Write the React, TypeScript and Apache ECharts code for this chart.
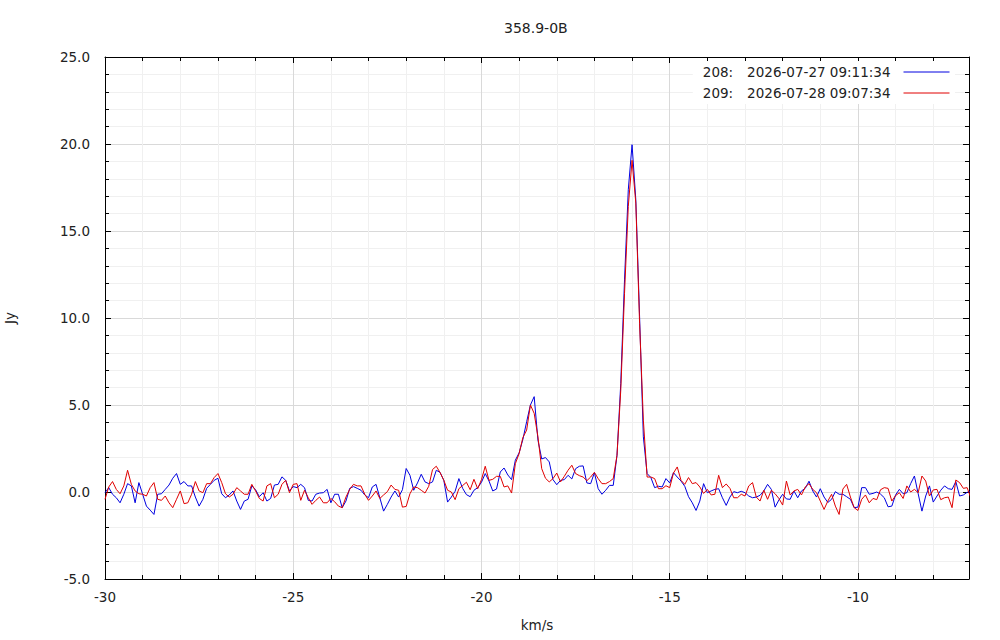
import React, { useEffect, useRef } from 'react';
import * as echarts from 'echarts';

// ---- data ----
const TITLE = '358.9-0B';
const X_NAME = 'km/s';
const Y_NAME = 'Jy';
const X_TICKS = [-30, -25, -20, -15, -10];
const Y_TICKS = [-5, 0, 5, 10, 15, 20, 25];
// spectral channel grid (km/s)
const VELOCITY_START = -30;
const VELOCITY_STEP = 0.1;
const SCAN_IDS = ['208', '209'];
const SCAN_TIMES = ['2026-07-27 09:11:34', '2026-07-28 09:07:34'];

// flux density (Jy), one value per channel, scan 208
const FLUX_208 = [
  -0.04, 0.25, -0.13, -0.33, -0.62, -0.13, 0.48, 0.35, -0.62, 0.54,
  -0.13, -0.81, -1.04, -1.29, -0.13, -0.1, 0.15, 0.4, 0.79, 1.06,
  0.44, 0.6, 0.35, 0.35, -0.29, -0.81, -0.42, 0.21, 0.44, 0.67,
  0.79, -0.1, -0.33, -0.17, 0.06, -0.52, -1.0, -0.52, -0.42,
  0.35, 0.13, -0.27, -0.04, -0.52, -0.37, 0.4, 0.44, 0.87, 0.67,
  0.06, 0.31, 0.25, 0.44, 0.25, -0.48, -0.52, -0.13, -0.06, -0.04,
  0.15, -0.62, -0.13, -0.13, -0.9, -0.52, 0.21, 0.31, 0.21, 0.1,
  -0.17, -0.33, 0.29, 0.44, -0.33, -1.1, -0.71, -0.29, 0.06,
  -0.29, 0.13, 1.35, 0.96, 0.1, 0.52, 1.02, 0.58, 0.48, 0.58,
  1.25, 1.13, 0.67, -0.58, -0.29, 0.04, 0.77, 0.21, -0.15, -0.27,
  0.1, 0.25, 0.56, 1.06, 0.63, 0.06, 0.17, 1.15, 1.38, 0.98,
  0.71, 1.83, 2.25, 3.02, 4.04, 5.0, 5.48, 2.98,
  1.9, 1.98, 1.73, 0.71, 0.42, 0.67, 0.71, 0.96, 0.75, 1.34,
  1.48, 1.5, 0.52, 0.48, 1.11, 0.19, -0.13, 0.1, 0.38, 0.38,
  2.11, 6.24, 12.19, 17.37, 19.96, 16.79, 10.08, 3.17, 1.06, 0.83,
  0.25, 0.33, 0.29, 0.77, 0.52, 1.11, 0.86, 0.63, 0.33,
  -0.27, -0.62, -1.06, -0.52, 0.48, -0.04, 0.06, 0.15, 0.19, -0.33,
  -0.77, -0.29, 0.02, -0.04, 0.04, -0.04, -0.23, -0.33, -0.29, -0.19,
  0.06, 0.44, 0.15, -0.87, -0.46, -0.13, -0.4, -0.42, 0.06, -0.33,
  0.06, 0.21, 0.62, 0.06, -0.29, 0.19, -0.29, -0.6, -0.42,
  0.02, -0.13, -0.13, -0.27, -0.42, -0.9, -0.87, 0.25, 0.25, -0.13,
  -0.08, 0.0, -0.12, -0.33, -0.85, -0.81, -0.17, 0.15, -0.1, -0.04,
  0.48, 0.92, -0.1, -1.1, -0.23, 0.35, -0.58, -0.23, 0.1, 0.35,
  0.19, 0.15, 0.6, -0.23, -0.17, -0.02, 0.06,
];

// flux density (Jy), one value per channel, scan 209
const FLUX_209 = [
  -0.42, 0.29, 0.6, 0.15, -0.1, 0.35, 1.25, 0.44, 0.06, -0.1,
  -0.13, -0.23, 0.25, 0.54, -0.42, -0.48, -0.23, -0.62, -0.9, -0.42,
  0.06, -0.67, -0.62, -0.13, 0.6, 0.06, -0.04, 0.48, 0.48, 0.83,
  1.06, 0.54, -0.1, -0.29, -0.13, 0.25, 0.06, -0.13, -0.13,
  0.44, 0.06, -0.37, -0.52, 0.35, 0.48, -0.33, -0.13, 0.44, 0.67,
  -0.04, 0.44, 0.48, -0.48, 0.1, -0.33, -0.71, -0.48, -0.29, -0.62,
  -0.62, -0.37, -0.56, -0.81, -0.9, -0.29, 0.15, 0.44, 0.35, 0.35,
  -0.13, -0.48, -0.23, 0.06, -0.37, -0.17, 0.02, 0.4, 0.15,
  0.1, -0.87, -0.83, -0.1, 0.29, 0.25, 0.1, -0.06, 0.33, 1.29,
  1.48, 1.12, 0.67, 0.1, 0.0, -0.44, 0.19, 0.37, 0.56, 0.13,
  0.73, 0.19, 0.71, 1.48, 0.67, 0.73, 0.9, 0.9, 0.29, 0.35,
  -0.06, 1.63, 2.21, 3.13, 3.56, 5.0, 4.52, 3.17,
  1.34, 0.79, 0.58, 0.77, 1.09, 0.58, 0.9, 1.25, 1.54, 1.06,
  0.94, 0.86, 0.65, 0.86, 1.13, 0.77, 0.48, 0.48, 0.6, 0.77,
  2.11, 5.85, 11.42, 16.41, 19.06, 16.6, 9.69, 4.13, 0.86, 0.86,
  0.77, 0.19, 0.19, 0.36, 0.25, 1.09, 1.44, 0.67, 0.44,
  0.83, 0.48, 0.54, 0.29, -0.08, 0.15, -0.17, -0.13, 0.96, 0.25,
  0.46, 0.21, -0.33, -0.33, -0.13, -0.23, 0.35, 0.54, -0.29, -0.52,
  0.1, -0.42, 0.1, -0.1, -0.37, -0.75, 0.63, -0.17, 0.06, 0.15,
  -0.17, 0.29, 0.48, 0.15, -0.04, -0.52, -1.0, -0.52, -0.13,
  -0.81, -1.29, 0.17, 0.44, -0.29, -0.9, -1.06, -0.42, -0.17, -0.62,
  -0.37, -0.44, 0.13, 0.25, 0.21, -0.52, -0.21, -0.04, -0.37, 0.35,
  0.0, 0.15, -0.04, 0.92, 0.63, -0.23, 0.12, 0.15, -0.44, -0.33,
  -0.29, -0.9, 0.69, 0.54, 0.21, 0.25, -0.33,
];

const X_MIN = -30;
const X_MAX = -7.05;

// ---- styles ----
const FONT = "'DejaVu Sans', 'Liberation Sans', sans-serif";
const TEXT_COLOR = '#222';
const LINE_COLORS = ['#0000e0', '#e00000'];

function toPairs(values: number[]): [number, number][] {
  return values.map((v, i) => [
    Math.round((VELOCITY_START + i * VELOCITY_STEP) * 1000) / 1000,
    v,
  ]);
}

export default function App() {
  const ref = useRef<HTMLDivElement | null>(null);

  useEffect(() => {
    if (!ref.current) return;
    const chart = echarts.init(ref.current, undefined, { renderer: 'svg' });
    const xInterval = X_TICKS[1] - X_TICKS[0];
    const yInterval = Y_TICKS[1] - Y_TICKS[0];

    const mirrorTick = {
      show: true,
      inside: true,
      length: 6,
      lineStyle: { color: '#000', width: 1 },
    };
    const mirrorMinor = {
      show: true,
      splitNumber: 5,
      length: 4,
      lineStyle: { color: '#000', width: 1 },
    };

    const seriesData = [FLUX_208, FLUX_209];

    const option: any = {
      animation: false,
      backgroundColor: '#fff',
      title: {
        text: TITLE,
        left: 504,
        top: 21,
        padding: 0,
        textStyle: {
          fontFamily: FONT,
          fontSize: 14,
          fontWeight: 'normal',
          color: TEXT_COLOR,
        },
      },
      legend: {
        orient: 'vertical',
        right: 45,
        top: 61,
        align: 'right',
        itemWidth: 46,
        itemHeight: 14,
        itemGap: 7,
        padding: [4, 5, 4, 10],
        backgroundColor: '#fff',
        selectedMode: false,
        data: SCAN_IDS,
        itemStyle: { opacity: 0, borderWidth: 0 },
        lineStyle: { width: 1 },
        formatter: (name: string) => {
          const i = SCAN_IDS.indexOf(name);
          return `{id|${name}:}{dt|${SCAN_TIMES[i]}}`;
        },
        textStyle: {
          fontFamily: FONT,
          fontSize: 13.5,
          color: TEXT_COLOR,
          lineHeight: 14,
          padding: [0, 8, 0, 0],
          rich: {
            id: {
              fontFamily: FONT,
              fontSize: 13.5,
              color: TEXT_COLOR,
              padding: [0, 14, 0, 0],
            },
            dt: { fontFamily: FONT, fontSize: 13.5, color: TEXT_COLOR },
          },
        },
      },
      grid: {
        left: 105,
        right: 31,
        top: 57,
        bottom: 61,
        containLabel: false,
        outerBoundsMode: 'none',
      },
      xAxis: [
        {
          type: 'value',
          position: 'bottom',
          min: X_MIN,
          max: X_MAX,
          interval: xInterval,
          name: X_NAME,
          nameLocation: 'middle',
          nameGap: 39,
          nameTextStyle: { fontFamily: FONT, fontSize: 13.5, color: TEXT_COLOR },
          axisLine: { show: true, onZero: false, lineStyle: { color: '#000', width: 1 } },
          axisTick: mirrorTick,
          minorTick: mirrorMinor,
          axisLabel: {
            show: true,
            margin: 11,
            showMaxLabel: false,
            fontFamily: FONT,
            fontSize: 13.5,
            color: TEXT_COLOR,
            formatter: (v: number) => String(v),
          },
          splitLine: { show: true, lineStyle: { color: '#d9d9d9', width: 1 } },
          minorSplitLine: { show: true, lineStyle: { color: '#f0f0f0', width: 1 } },
        },
        {
          type: 'value',
          position: 'top',
          min: X_MIN,
          max: X_MAX,
          interval: xInterval,
          axisLine: { show: true, onZero: false, lineStyle: { color: '#000', width: 1 } },
          axisTick: mirrorTick,
          minorTick: mirrorMinor,
          axisLabel: { show: false },
          splitLine: { show: false },
        },
      ],
      yAxis: [
        {
          type: 'value',
          position: 'left',
          min: Y_TICKS[0],
          max: Y_TICKS[Y_TICKS.length - 1],
          interval: yInterval,
          name: Y_NAME,
          nameLocation: 'middle',
          nameRotate: 90,
          nameGap: 88,
          nameTextStyle: { fontFamily: FONT, fontSize: 13.5, color: TEXT_COLOR },
          axisLine: { show: true, onZero: false, lineStyle: { color: '#000', width: 1 } },
          axisTick: mirrorTick,
          minorTick: mirrorMinor,
          axisLabel: {
            show: true,
            margin: 15,
            fontFamily: FONT,
            fontSize: 13.5,
            color: TEXT_COLOR,
            formatter: (v: number) => v.toFixed(1),
          },
          splitLine: { show: true, lineStyle: { color: '#d9d9d9', width: 1 } },
          minorSplitLine: { show: true, lineStyle: { color: '#f0f0f0', width: 1 } },
        },
        {
          type: 'value',
          position: 'right',
          min: Y_TICKS[0],
          max: Y_TICKS[Y_TICKS.length - 1],
          interval: yInterval,
          axisLine: { show: true, onZero: false, lineStyle: { color: '#000', width: 1 } },
          axisTick: mirrorTick,
          minorTick: mirrorMinor,
          axisLabel: { show: false },
          splitLine: { show: false },
        },
      ],
      series: SCAN_IDS.map((id, i) => ({
        name: id,
        type: 'line',
        xAxisIndex: 0,
        yAxisIndex: 0,
        data: toPairs(seriesData[i]),
        symbol: 'none',
        showSymbol: false,
        clip: true,
        color: LINE_COLORS[i],
        lineStyle: { color: LINE_COLORS[i], width: 1 },
        z: 2 + i,
      })),
    };

    chart.setOption(option);
    return () => {
      chart.dispose();
    };
  }, []);

  return (
    <div
      ref={ref}
      style={{ position: 'fixed', left: 0, top: 0, width: 1000, height: 640, background: '#fff' }}
    />
  );
}
